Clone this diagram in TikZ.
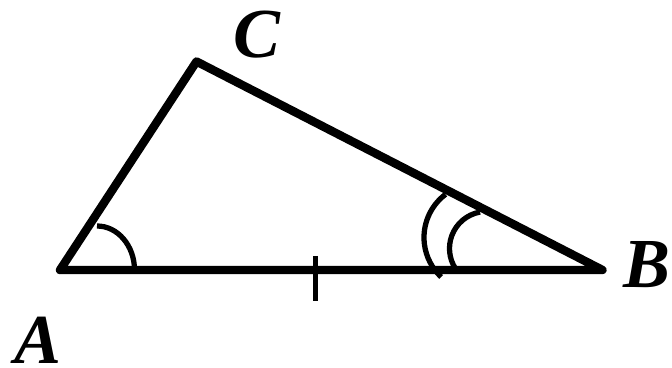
\documentclass[tikz,border=0pt]{standalone}
\usepackage{fontspec}
\setmainfont{Liberation Serif}[BoldItalicFont={Liberation Serif Bold Italic}]
\usepackage{tikz}

\begin{document}
\begin{tikzpicture}[scale=1,
    side/.style={line width=4.8pt, line join=round, line cap=round},
    anglemark/.style={line width=3pt},
    tickmark/.style={line width=2.8pt},
    lbl/.style={font=\fontsize{40}{48}\selectfont\bfseries\itshape, inner sep=0pt}
]
  \useasboundingbox (0,0) rectangle (13.44,7.36);
  \coordinate (A) at (1.2, 1.96);
  \coordinate (B) at (12.05, 1.96);
  \coordinate (C) at (3.93, 6.13);
  \draw[side] (A) -- (B) -- (C) -- cycle;
  % angle marks
  \draw[anglemark] (2.69, 1.96) arc[start angle=0, end angle=90, x radius=0.75, y radius=0.88];
  \draw[anglemark] (9.56, 2.61) ++(127:1.08) arc[start angle=127, end angle=227, radius=1.08];
  \draw[anglemark] (9.73, 2.39) ++(100:0.74) arc[start angle=100, end angle=212, radius=0.74];
  % equal side tick
  \coordinate (T1) at (6.31, 2.24);
  \coordinate (T2) at (6.31, 1.34);
  \draw[tickmark] (T1) -- (T2);
  \node[lbl] (lA) at (0.75, 0.56) {A};
  \node[lbl] (lB) at (12.94, 2.06) {B};
  \node[lbl] (lC) at (5.14, 6.66) {C};
\end{tikzpicture}
\end{document}
